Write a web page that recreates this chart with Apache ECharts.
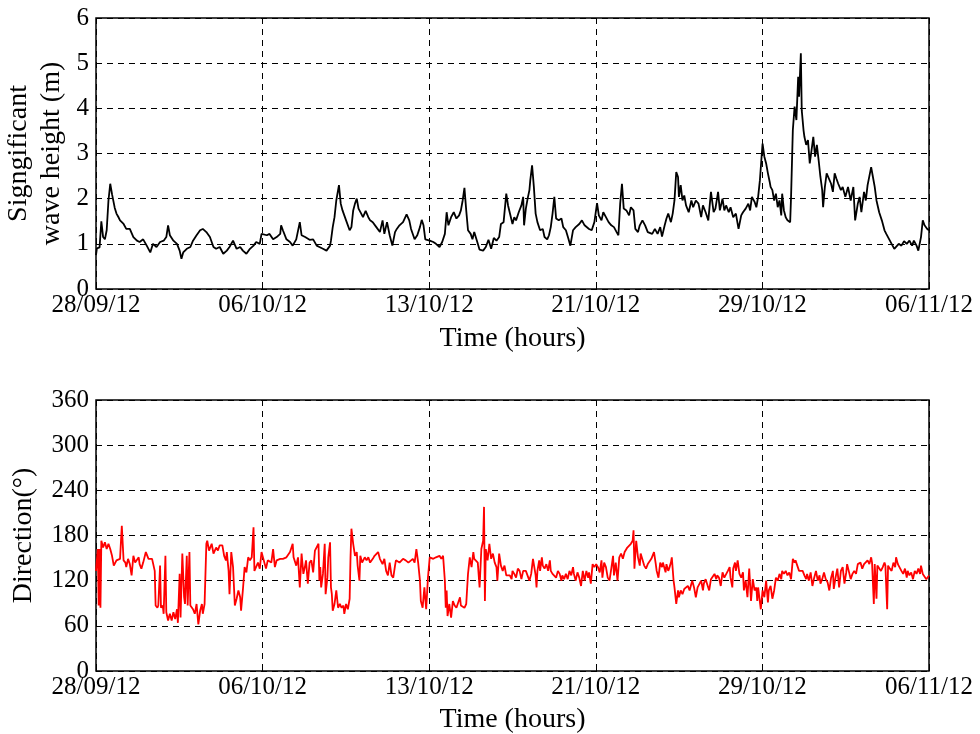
<!DOCTYPE html>
<html>
<head>
<meta charset="utf-8">
<script src="https://cdn.jsdelivr.net/npm/echarts/dist/echarts.min.js"></script>
<style>
  html, body { margin: 0; padding: 0; background: #fff; }
  #chart { width: 980px; height: 734px; }
</style>
</head>
<body>
<div id="chart"></div>
<script>
// Record span: 28/09/12 00:00 to 06/11/12 00:00, time in hours from start
const spanHours = 936;
const tickStep = 187.2;
const timeLabels = ['28/09/12', '06/10/12', '13/10/12', '21/10/12', '29/10/12', '06/11/12'];

// Significant wave height (m): [hour, Hs]
const waveHeight = [
  [0,0.75],[1,0.9],[4,0.92],[6,1.5],[8,1.15],[10,1.1],[12,1.3],[14,1.96],[16,2.33],[18,2.1],[19,2.0],[21,1.8],[23,1.67],[25,1.6],[27,1.52],[29,1.55],[31,1.44],[34,1.33],[38,1.33],[42,1.15],[46,1.07],[49,1.04],[53,1.1],[57,0.96],[61,0.81],[64,1.0],[68,0.93],[72,1.04],[76,1.07],[79,1.15],[81,1.41],[83,1.19],[87,1.07],[91,1.0],[94,0.85],[96,0.67],[98,0.81],[102,0.89],[106,0.93],[109,1.07],[113,1.19],[117,1.3],[120,1.33],[124,1.26],[126,1.3],[128,1.15],[132,0.93],[135,0.89],[139,0.93],[143,0.78],[147,0.85],[150,0.93],[154,1.07],[158,0.89],[162,0.93],[165,0.85],[169,0.78],[173,0.89],[177,0.96],[180,1.04],[184,1.0],[186,1.22],[188,1.26],[192,1.19],[195,1.22],[199,1.1],[203,1.15],[207,1.22],[208,1.41],[210,1.3],[214,1.1],[218,1.04],[221,0.96],[225,1.1],[229,1.48],[231,1.19],[235,1.15],
  [236,1.13],[240,1.09],[244,1.1],[248,0.96],[251,0.93],[255,0.89],[259,0.85],[263,0.96],[264,1.07],[266,1.37],[268,1.59],[270,1.96],[273,2.3],[275,1.89],[277,1.74],[279,1.63],[281,1.52],[285,1.3],[287,1.37],[289,1.74],[291,1.89],[293,2.0],[295,1.78],[298,1.67],[300,1.59],[303,1.73],[306,1.59],[308,1.52],[311,1.48],[315,1.37],[319,1.26],[322,1.52],[324,1.22],[327,1.48],[330,1.19],[333,0.96],[336,1.26],[338,1.33],[341,1.41],[345,1.48],[349,1.65],[352,1.52],[354,1.33],[358,1.1],[361,1.19],[364,1.37],[366,1.53],[368,1.41],[370,1.1],[375,1.07],[379,1.04],[382,1.0],[386,0.93],[389,1.04],[392,1.22],[394,1.7],[396,1.41],[399,1.59],[402,1.7],[405,1.56],[408,1.63],[410,1.74],[412,1.96],[414,2.24],[416,1.74],[418,1.3],[421,1.22],[423,1.1],[425,1.26],[428,1.07],[431,0.87],[435,0.85],[438,0.93],[441,1.09],[444,0.89],[447,1.13],[450,1.07],[453,1.15],[455,1.44],[458,1.48],[461,2.11],[463,1.85],[465,1.81],[468,1.44],[470,1.59],
  [472,1.52],[475,1.7],[478,1.85],[480,2.04],[481,1.41],[483,1.78],[485,2.0],[487,2.19],[488,2.41],[490,2.74],[492,2.26],[494,1.67],[496,1.48],[499,1.3],[502,1.33],[504,1.15],[507,1.1],[509,1.19],[511,1.37],[513,1.67],[515,2.04],[517,1.56],[520,1.52],[523,1.56],[525,1.37],[528,1.3],[531,1.1],[533,0.96],[536,1.3],[539,1.37],[543,1.44],[546,1.52],[549,1.41],[551,1.44],[554,1.33],[557,1.3],[560,1.48],[563,1.9],[565,1.63],[568,1.52],[570,1.7],[573,1.59],[576,1.48],[579,1.41],[582,1.37],[585,1.26],[587,1.19],[589,1.89],[591,2.33],[593,1.78],[596,1.74],[599,1.63],[601,1.81],[604,1.74],[606,1.33],[609,1.26],[611,1.41],[614,1.52],[617,1.41],[620,1.26],[622,1.3],[625,1.22],[628,1.33],[631,1.22],[634,1.37],[636,1.16],[639,1.41],[641,1.56],[643,1.67],[646,1.48],[648,1.67],[650,1.96],[652,2.59],[654,2.48],[655,2.04],[657,2.3],[659,1.96],[661,2.07],[663,1.85],[666,1.7],[669,1.96],[671,1.81],[674,1.96],[677,1.89],[680,1.59],[682,1.85],[685,1.7],[688,1.52],[691,2.15],[694,1.7],[696,1.78],[699,2.15],[701,1.74],[704,2.0],[706,1.74],
  [708,1.85],[711,1.7],[713,1.81],[716,1.59],[719,1.67],[722,1.33],[725,1.63],[727,1.7],[730,1.78],[733,1.89],[735,1.74],[737,2.04],[740,1.93],[742,1.81],[744,2.04],[746,2.41],[748,2.96],[749,3.22],[751,2.93],[753,2.78],[755,2.56],[757,2.37],[758,2.26],[760,2.19],[762,1.96],[764,2.11],[766,1.81],[768,1.96],[770,1.63],[771,2.11],[773,1.74],[775,1.59],[777,1.52],[780,1.48],[781,2.04],[783,3.52],[785,4.04],[787,3.74],[789,4.7],[790,4.26],[792,5.22],[793,3.96],[795,3.52],[796,3.37],[798,3.19],[800,3.3],[802,2.78],[804,3.07],[806,3.37],[808,2.93],[810,3.19],[812,2.85],[814,2.48],[816,2.19],[817,1.81],[819,2.26],[821,2.56],[823,2.52],[826,2.33],[828,2.15],[830,2.56],[832,2.44],[834,2.33],[837,2.19],[839,2.26],[842,2.04],[845,2.26],[848,1.96],[851,2.26],[853,1.52],[856,1.89],[858,2.04],[860,1.7],[863,2.15],[865,1.96],[867,2.3],[869,2.26],[871,2.7],[873,2.48],[875,2.26],[877,1.96],[880,1.7],[883,1.52],[886,1.3],[888,1.22],[891,1.11],[894,1.0],[897,0.89],[899,0.93],[902,1.0],[905,0.96],[908,1.06],[911,1.0],[914,1.07],[917,0.96],[919,1.07],[922,0.96],[924,0.85],[927,1.15],[929,1.52],[931,1.41],[934,1.33],[936,1.3]
];

// Mean wave direction (degrees): [hour, direction]
const waveDirection = [
  [0,133],[2,162],[3,87],[4,162],[5,84],[6,173],[8,164],[10,171],[12,162],[14,169],[16,162],[18,153],[20,140],[23,147],[27,149],[29,193],[31,147],[33,144],[34,138],[36,149],[38,142],[40,127],[42,153],[44,144],[46,142],[48,151],[49,142],[51,136],[53,144],[56,158],[59,149],[61,147],[63,149],[64,147],[66,133],[67,87],[69,84],[70,87],[72,140],[73,84],[75,87],[76,76],[78,153],[79,78],[81,67],[83,76],[85,67],[87,78],[89,69],[91,82],[92,64],[94,129],[95,71],[97,156],[99,98],[100,89],[102,153],[103,87],[105,158],[106,87],[109,82],[111,76],[113,89],[115,62],[117,80],[119,89],[120,76],[122,89],[124,169],[125,173],[127,160],[130,169],[132,156],[135,164],[137,160],[139,167],[142,167],[144,153],[146,147],[147,158],[149,133],[150,102],[152,158],[154,138],[156,87],[158,96],[160,107],[162,98],[163,80],[165,107],[167,138],[169,131],[171,151],[173,147],[175,151],[177,191],[178,133],[180,131],[182,144],[184,136],[186,158],[188,156],[191,136],[193,147],[197,144],[199,162],[201,138],[203,147],[207,149],[210,149],[214,151],[218,158],[221,169],[222,151],[225,140],[227,151],[229,111],[231,156],[233,129],[235,140],
  [236,147],[238,116],[240,144],[242,147],[244,131],[246,160],[248,162],[250,169],[251,120],[252,138],[253,111],[255,129],[257,169],[258,102],[260,124],[261,151],[263,171],[264,111],[265,102],[266,80],[268,89],[270,107],[272,84],[274,89],[276,84],[278,87],[279,76],[281,89],[283,82],[285,96],[286,151],[287,189],[289,169],[291,153],[293,158],[294,140],[296,120],[297,153],[299,144],[302,151],[304,147],[306,151],[308,144],[311,149],[313,153],[317,158],[319,149],[321,151],[322,142],[324,149],[326,133],[328,127],[330,144],[332,127],[334,124],[336,140],[337,147],[341,144],[345,149],[348,147],[351,144],[353,142],[356,149],[358,144],[360,162],[362,144],[364,120],[365,93],[367,84],[369,111],[371,82],[373,124],[375,151],[377,153],[379,149],[382,151],[384,149],[386,153],[388,149],[390,153],[392,120],[393,84],[394,107],[395,73],[397,89],[399,71],[401,93],[403,87],[405,84],[407,91],[409,98],[410,87],[412,89],[414,84],[416,89],[418,129],[420,151],[422,138],[424,158],[425,149],[427,151],[429,144],[431,111],[433,162],[435,173],[436,218],[437,93],[438,162],[440,147],[442,169],[444,149],[446,156],[448,144],[450,138],[451,120],[453,156],[455,140],[457,133],[459,140],[461,127],[463,129],[465,127],[467,122],[468,133],[470,129],
  [472,124],[474,136],[476,133],[478,122],[480,133],[481,131],[483,133],[485,131],[487,120],[489,129],[491,149],[493,147],[494,127],[495,111],[496,133],[498,147],[499,133],[501,151],[502,140],[504,136],[506,142],[508,133],[510,147],[511,133],[513,129],[515,127],[517,124],[519,133],[521,129],[523,120],[524,127],[526,122],[528,129],[530,122],[532,133],[534,127],[536,138],[537,129],[539,120],[541,131],[543,124],[545,113],[547,133],[549,120],[551,133],[553,124],[554,131],[556,116],[558,142],[560,138],[562,142],[564,138],[566,131],[568,147],[569,124],[571,144],[573,138],[575,124],[577,120],[579,136],[581,153],[582,127],[584,144],[586,120],[588,151],[590,156],[592,149],[594,158],[596,156],[597,164],[599,162],[601,169],[603,173],[604,187],[605,136],[607,173],[609,151],[611,140],[612,156],[614,158],[616,140],[618,136],[620,142],[622,144],[624,149],[626,147],[627,158],[629,142],[630,133],[632,124],[634,144],[636,138],[637,144],[640,131],[641,142],[643,133],[644,136],[646,144],[647,151],[649,120],[650,111],[652,89],[654,107],[655,98],[657,107],[659,102],[661,109],[663,107],[665,113],[667,107],[669,116],[670,120],[672,111],[674,98],[676,111],[678,113],[680,120],[682,107],[683,116],[685,122],[687,124],[689,107],[691,122],[693,124],[695,129],[697,122],[698,127],[700,124],[702,113],[704,131],[706,124],
  [708,124],[710,133],[712,138],[713,124],[715,111],[716,136],[718,144],[719,133],[721,147],[723,129],[725,124],[727,131],[728,107],[730,120],[732,98],[734,136],[736,93],[738,122],[740,107],[742,111],[743,93],[744,111],[746,109],[747,82],[749,107],[751,98],[753,120],[755,91],[756,107],[758,113],[760,96],[762,107],[764,124],[766,120],[768,129],[770,122],[771,133],[773,129],[775,133],[777,127],[779,131],[781,122],[783,149],[785,144],[786,147],[788,140],[790,133],[792,131],[794,133],[796,127],[798,122],[799,129],[801,120],[803,131],[805,113],[807,124],[809,133],[811,120],[813,127],[814,116],[816,122],[818,131],[820,122],[822,118],[824,107],[826,124],[828,133],[829,109],[831,124],[833,136],[835,111],[837,133],[839,138],[841,116],[843,131],[844,142],[846,144],[848,122],[850,129],[852,133],[854,129],[856,142],[857,140],[859,144],[861,136],[863,142],[865,140],[867,147],[869,142],[871,151],[872,144],[874,89],[875,142],[877,96],[878,140],[880,138],[882,133],[884,138],[886,144],[887,140],[889,82],[890,140],[892,136],[894,133],[896,144],[898,138],[899,151],[901,142],[903,144],[905,133],[907,129],[909,136],[911,124],[912,133],[914,127],[916,131],[918,122],[920,133],[922,129],[924,136],[926,129],[927,140],[929,129],[931,127],[933,122],[936,127]
];

const FONT = 'Liberation Serif';
const INK = '#000';
const gridDash = { color: INK, width: 1, type: [6, 5] };

function timeAxis(gridIndex, gap) {
  return {
    type: 'value', gridIndex: gridIndex,
    min: 0, max: spanHours, interval: tickStep,
    axisLine: { show: false },
    axisTick: { show: true, inside: true, length: 5, lineStyle: { color: INK } },
    axisLabel: {
      color: INK, fontFamily: FONT, fontSize: 25, margin: 4,
      formatter: function (v) { return timeLabels[Math.round(v / tickStep)] || ''; }
    },
    splitLine: { show: true, lineStyle: gridDash },
    name: 'Time (hours)', nameLocation: 'middle', nameGap: gap,
    nameTextStyle: { color: INK, fontFamily: FONT, fontSize: 28 }
  };
}

function valueAxis(gridIndex, max, step, name, gap) {
  return {
    type: 'value', gridIndex: gridIndex,
    min: 0, max: max, interval: step,
    axisLine: { show: false },
    axisTick: { show: true, inside: true, length: 5, lineStyle: { color: INK } },
    axisLabel: { color: INK, fontFamily: FONT, fontSize: 25, margin: 7 },
    splitLine: { show: true, lineStyle: gridDash },
    name: name, nameLocation: 'middle', nameRotate: 90, nameGap: gap,
    nameMoveOverlap: false,
    nameTextStyle: { color: INK, fontFamily: FONT, fontSize: 28, lineHeight: 33 }
  };
}

function panel(top) {
  return {
    left: 96, right: 51, top: top, height: 271,
    outerBoundsMode: 'none', containLabel: false,
    show: true, borderColor: INK, borderWidth: 1.5, backgroundColor: 'transparent'
  };
}

const chart = echarts.init(document.getElementById('chart'), null, { renderer: 'canvas' });
chart.setOption({
  backgroundColor: '#fff',
  animation: false,
  grid: [panel(18), panel(400)],
  xAxis: [timeAxis(0, 36), timeAxis(1, 35)],
  yAxis: [
    valueAxis(0, 6, 1, 'Signgificant\nwave height (m)', 28),
    valueAxis(1, 360, 60, 'Direction(°)', 56)
  ],
  series: [
    {
      type: 'line', xAxisIndex: 0, yAxisIndex: 0, data: waveHeight,
      showSymbol: false, lineStyle: { color: INK, width: 1.8 }, z: 5
    },
    {
      type: 'line', xAxisIndex: 1, yAxisIndex: 1, data: waveDirection,
      showSymbol: false, lineStyle: { color: '#ff0000', width: 1.8 }, z: 5
    }
  ]
});
</script>
</body>
</html>
